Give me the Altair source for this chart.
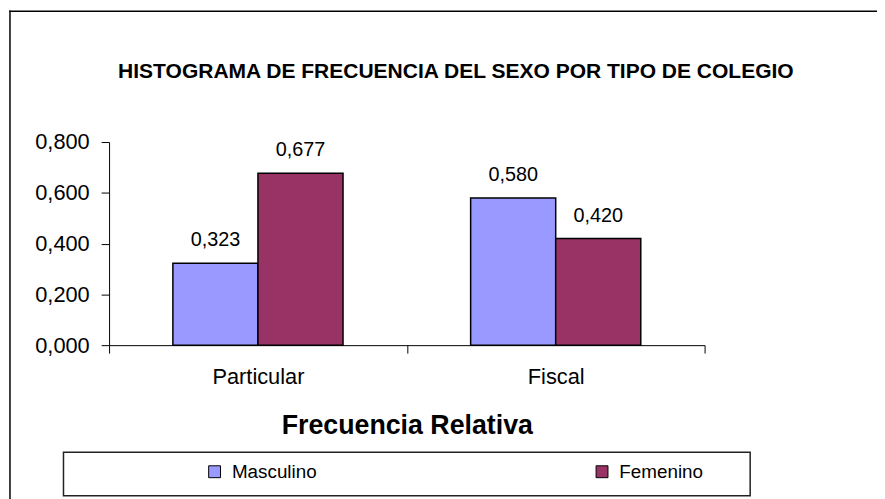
import altair as alt
import pandas as pd

categories = ["Particular", "Fiscal"]
series = ["Masculino", "Femenino"]
masculino = [0.323, 0.580]
femenino = [0.677, 0.420]
colors = ["#9999FF", "#993366"]
y_ticks = [0.0, 0.2, 0.4, 0.6, 0.8]

rows = []
for i, c in enumerate(categories):
    rows.append({"Tipo": c, "Sexo": series[0], "v": masculino[i]})
    rows.append({"Tipo": c, "Sexo": series[1], "v": femenino[i]})
df = pd.DataFrame(rows)

FONT = "Liberation Sans"
W, H = 601, 205

xscale = alt.Scale(domain=categories, paddingInner=0, paddingOuter=0)
xoff = alt.Scale(domain=series, paddingInner=0, paddingOuter=0.75)
color = alt.Color("Sexo:N", scale=alt.Scale(domain=series, range=colors),
                  legend=alt.Legend(title=None, orient="none", legendX=97, legendY=323,
                                    direction="horizontal", labelFontSize=19,
                                    labelFont=FONT, labelColor="black",
                                    symbolType="square", symbolSize=144,
                                    symbolStrokeColor="black", symbolStrokeWidth=1,
                                    labelOffset=8, columnPadding=278, padding=0))

base = alt.Chart(df)

bars = base.mark_bar(stroke="black", strokeWidth=1.5).encode(
    x=alt.X("Tipo:N", scale=xscale, sort=categories,
            axis=alt.Axis(title="Frecuencia Relativa", labelAngle=0, labelFontSize=22,
                          labelFont=FONT, labelColor="black", labelPadding=14,
                          tickSize=8, tickColor="black", tickBand="extent",
                          domainColor="black", titleFont=FONT, titleFontSize=27,
                          titleFontWeight="bold", titleColor="black",
                          titleY=89, titleBaseline="alphabetic")),
    xOffset=alt.XOffset("Sexo:N", scale=xoff, sort=series),
    y=alt.Y("v:Q", scale=alt.Scale(domain=[0, 0.8], nice=False),
            axis=alt.Axis(title=None, values=y_ticks, grid=False, tickSize=8,
                          tickColor="black", domainColor="black", labelFontSize=22,
                          labelFont=FONT, labelColor="black", labelPadding=12,
                          labelExpr="replace(format(datum.value, '.3f'), '.', ',')")),
    color=color,
)

labels = base.transform_calculate(
    lab="replace(format(datum.v, '.3f'), '.', ',')"
).mark_text(baseline="alphabetic", dy=-17, fontSize=20, font=FONT, color="black").encode(
    x=alt.X("Tipo:N", scale=xscale, sort=categories),
    xOffset=alt.XOffset("Sexo:N", scale=xoff, sort=series),
    y=alt.Y("v:Q", scale=alt.Scale(domain=[0, 0.8], nice=False)),
    text="lab:N",
)

one = alt.Data(values=[{}])
frame_left = alt.Chart(one).mark_rule(color="black", strokeWidth=1.5).encode(
    x=alt.value(-100), y=alt.value(-132.75), y2=alt.value(500))
frame_top = alt.Chart(one).mark_rule(color="black", strokeWidth=1.5).encode(
    x=alt.value(-100.75), x2=alt.value(900), y=alt.value(-132))
legbox = alt.Chart(one).mark_rect(fillOpacity=0, stroke="#222222", strokeWidth=1.5).encode(
    x=alt.value(-46), x2=alt.value(647), y=alt.value(313), y2=alt.value(357))
title = alt.Chart(one).mark_text(fontSize=21.2, fontWeight="bold", font=FONT,
                                 baseline="alphabetic", align="center", color="black").encode(
    x=alt.value(350), y=alt.value(-65),
    text=alt.value("HISTOGRAMA DE FRECUENCIA DEL SEXO POR TIPO DE COLEGIO"))

chart = alt.layer(frame_left, frame_top, legbox, title, bars, labels).properties(
    width=W, height=H,
    autosize=alt.AutoSizeParams(type="none"),
    padding={"left": 102, "top": 133, "right": 174, "bottom": 153},
    background="white",
).configure_view(strokeWidth=0)

chart.save("out.html", embed_options={"renderer": "svg", "actions": False})
